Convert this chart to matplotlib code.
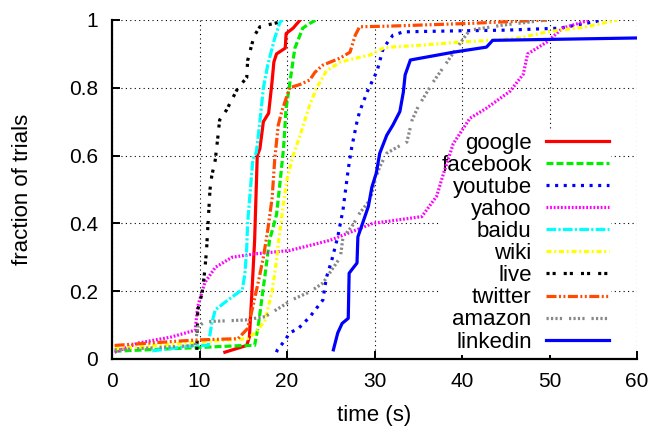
import matplotlib
matplotlib.use("Agg")
import matplotlib.pyplot as plt

plt.rcParams['font.family'] = ['Liberation Sans', 'DejaVu Sans']
plt.rcParams['lines.scale_dashes'] = False

names = ["google", "facebook", "youtube", "yahoo", "baidu", "wiki", "live", "twitter", "amazon", "linkedin"]

google_t = [12.9, 15.4, 15.7, 16.0, 16.3, 16.6, 16.9, 17.3, 17.9, 18.3, 18.5, 18.8, 19.8, 19.9, 20.7, 21.5]
google_f = [0.02, 0.04, 0.065, 0.20, 0.35, 0.60, 0.62, 0.70, 0.725, 0.82, 0.876, 0.90, 0.917, 0.96, 0.976, 1.0]

facebook_t = [0.3, 15.2, 16.3, 16.7, 17.5, 18.0, 18.8, 19.2, 19.6, 19.9, 20.3, 20.9, 21.8, 22.6, 23.3]
facebook_f = [0.023, 0.04, 0.04, 0.095, 0.25, 0.35, 0.425, 0.52, 0.62, 0.74, 0.81, 0.917, 0.976, 0.99, 1.0]

youtube_t = [18.8, 18.9, 19.8, 20.3, 21.3, 22.6, 24.1, 24.5, 25.1, 25.8, 26.4, 27.0, 27.4, 28.0, 28.3, 29.2, 30.3, 31.0, 32.1, 33.3, 35.2, 39.4, 45.0, 51.2, 56.2]
youtube_f = [0.02, 0.027, 0.056, 0.077, 0.09, 0.124, 0.174, 0.24, 0.29, 0.36, 0.44, 0.56, 0.625, 0.70, 0.73, 0.79, 0.85, 0.917, 0.955, 0.965, 0.966, 0.968, 0.97, 0.976, 1.0]

yahoo_t = [0.3, 3.0, 6.8, 9.5, 9.8, 10.6, 11.8, 13.7, 16.3, 20.3, 24.9, 29.8, 35.4, 37.1, 37.8, 39.0, 40.9, 42.8, 45.5, 47.0, 47.5, 49.7, 51.5, 54.6]
yahoo_f = [0.02, 0.047, 0.065, 0.085, 0.155, 0.225, 0.27, 0.30, 0.31, 0.32, 0.35, 0.40, 0.42, 0.48, 0.54, 0.635, 0.71, 0.74, 0.79, 0.84, 0.90, 0.935, 0.976, 1.0]

baidu_t = [4.6, 9.5, 11.0, 11.4, 11.8, 13.3, 14.9, 15.2, 15.4, 15.5, 16.1, 16.5, 16.9, 17.3, 17.8, 18.6, 19.2, 19.5]
baidu_f = [0.024, 0.04, 0.04, 0.105, 0.145, 0.175, 0.205, 0.253, 0.33, 0.40, 0.59, 0.61, 0.70, 0.80, 0.867, 0.947, 0.994, 1.0]

wiki_t = [0.3, 10.0, 15.5, 16.5, 17.5, 18.3, 18.8, 19.0, 19.6, 20.0, 20.7, 21.5, 22.6, 23.4, 24.5, 26.1, 28.3, 29.5, 31.0, 31.8, 35.5, 39.8, 43.5, 46.6, 49.7, 54.2, 57.7]
wiki_f = [0.03, 0.05, 0.06, 0.08, 0.115, 0.20, 0.29, 0.34, 0.46, 0.53, 0.60, 0.66, 0.75, 0.80, 0.85, 0.876, 0.89, 0.897, 0.917, 0.92, 0.926, 0.935, 0.94, 0.947, 0.965, 0.98, 1.0]

live_t = [9.7, 9.8, 10.3, 10.6, 10.8, 11.0, 11.2, 11.4, 11.8, 12.1, 12.3, 13.1, 14.1, 14.4, 15.4, 15.5, 16.0, 16.3, 16.9, 17.7, 19.2, 19.8]
live_f = [0.027, 0.145, 0.195, 0.26, 0.32, 0.41, 0.50, 0.54, 0.587, 0.655, 0.705, 0.735, 0.785, 0.80, 0.83, 0.88, 0.93, 0.955, 0.98, 0.985, 0.994, 1.0]

twitter_t = [0.3, 9.5, 14.4, 15.5, 16.1, 16.7, 17.3, 17.8, 18.3, 18.6, 19.0, 19.4, 20.3, 21.5, 22.6, 23.2, 24.1, 26.1, 27.2, 27.8, 28.3, 31.8, 35.2, 40.9, 49.7]
twitter_f = [0.04, 0.056, 0.06, 0.09, 0.155, 0.225, 0.30, 0.38, 0.475, 0.59, 0.69, 0.73, 0.80, 0.81, 0.823, 0.846, 0.867, 0.888, 0.905, 0.955, 0.98, 0.982, 0.985, 0.99, 1.0]

amazon_t = [0.3, 6.8, 9.5, 9.8, 10.6, 15.2, 17.5, 19.4, 20.6, 22.6, 24.1, 25.3, 26.1, 26.4, 27.4, 28.3, 29.5, 30.1, 30.6, 31.4, 32.6, 33.7, 34.3, 35.0, 36.7, 38.3, 39.2, 40.3, 40.9, 44.7, 49.7]
amazon_f = [0.027, 0.036, 0.04, 0.095, 0.11, 0.115, 0.125, 0.155, 0.175, 0.198, 0.224, 0.27, 0.30, 0.36, 0.39, 0.43, 0.47, 0.53, 0.567, 0.607, 0.625, 0.64, 0.705, 0.745, 0.817, 0.876, 0.91, 0.95, 0.97, 0.985, 1.0]

linkedin_t = [25.3, 25.8, 26.3, 27.0, 27.1, 27.6, 28.0, 28.1, 28.5, 29.3, 29.7, 30.2, 30.6, 31.4, 32.1, 32.9, 33.3, 33.5, 34.1, 39.0, 42.8, 43.5, 60.0]
linkedin_f = [0.027, 0.077, 0.105, 0.12, 0.253, 0.27, 0.283, 0.36, 0.39, 0.45, 0.507, 0.548, 0.607, 0.66, 0.69, 0.73, 0.788, 0.838, 0.882, 0.905, 0.92, 0.94, 0.947]

x_ticks = [0, 10, 20, 30, 40, 50, 60]
y_ticks = [0, 0.2, 0.4, 0.6, 0.8, 1.0]
y_tick_labels = ["0", "0.2", "0.4", "0.6", "0.8", "1"]

series = [
    (google_t, google_f, '#ff0000', '-'),
    (facebook_t, facebook_f, '#00ee00', (0, (5.0, 2.2))),
    (youtube_t, youtube_f, '#0000ff', (0, (2.2, 4.0))),
    (yahoo_t, yahoo_f, '#ff00ff', (0, (1.3, 1.3))),
    (baidu_t, baidu_f, '#00ffff', (0, (7.0, 1.6, 1.6, 1.6))),
    (wiki_t, wiki_f, '#ffff00', (0, (3.6, 2.0, 1.4, 2.0))),
    (live_t, live_f, '#000000', (0, (2.2, 2.2, 2.2, 5.8))),
    (twitter_t, twitter_f, '#ff4a00', (0, (7.2, 1.8, 1.4, 1.8, 1.4, 1.8))),
    (amazon_t, amazon_f, '#888888', (0, (1.6, 1.6, 1.6, 1.6, 1.6, 1.6, 1.6, 5.0))),
    (linkedin_t, linkedin_f, '#0000ff', '-'),
]

fig = plt.figure(figsize=(6.52, 4.26), dpi=100)
ax = fig.add_axes([112/652, 1 - 359/426, 525/652, 339/426])

for name, (t, f, c, ls) in zip(names, series):
    ax.plot(t, f, color=c, linestyle=ls, linewidth=2.3, label=name, zorder=3)

ax.set_xlim(0, 60)
ax.set_ylim(0, 1)
ax.set_xticks(x_ticks)
ax.set_yticks(y_ticks)
ax.set_yticklabels(y_tick_labels)
ax.grid(True, color='black', linestyle=(0, (0.8, 2.4)), linewidth=0.8)
ax.set_axisbelow(True)
for s in ['top', 'right']:
    ax.spines[s].set_visible(False)
for s in ['left', 'bottom']:
    ax.spines[s].set_linewidth(1.6)
    ax.spines[s].set_zorder(4)
ax.tick_params(direction='in', length=6, width=1.4, labelsize=15)
ax.tick_params(axis='x', pad=9.5)
ax.tick_params(axis='y', pad=10)
ax.set_xlabel('time (s)', fontsize=16, labelpad=10)
ax.set_ylabel('fraction of trials', fontsize=16, labelpad=26)

leg = ax.legend(loc='lower right', bbox_to_anchor=(0.9505, 0.0125), markerfirst=False,
                fontsize=16, handlelength=2.84, handletextpad=0.63, labelspacing=0.05,
                frameon=True, framealpha=1, facecolor='white', edgecolor='none',
                borderpad=0.1, borderaxespad=0, fancybox=False)
for txt in leg.get_texts():
    txt.set_ha('right')
leg._legend_box.align = 'right'
leg.set_zorder(2)

fig.savefig('out.png', dpi=100)
